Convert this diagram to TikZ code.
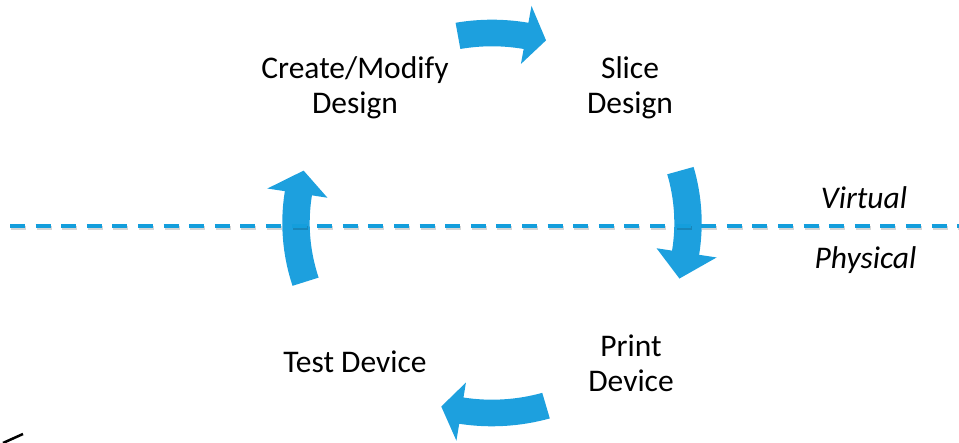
\documentclass[tikz,border=0pt]{standalone}
\usepackage{fontspec}
\setmainfont{Carlito}
\definecolor{arrowblue}{RGB}{29,160,222}
\definecolor{lineblue}{RGB}{20,158,220}
\newcommand\cyclearrow[3]{%
  \fill[arrowblue] (#1:209.7 and 203.3)
    arc[start angle=#1, end angle=#2, x radius=209.7, y radius=203.3]
    -- (#2:227.4 and 220.4) -- (#3:196 and 190) -- (#2:166.6 and 161.5)
    -- (#2:182.3 and 176.7)
    arc[start angle=#2, end angle=#1, x radius=182.3, y radius=176.7]
    -- cycle;}
\begin{document}
\begin{tikzpicture}[x=1pt,y=1pt,
  lbl/.style={font=\fontsize{31.5}{35}\selectfont, align=center, inner sep=0pt, text=black},
  side/.style={font=\fontsize{31.5}{35}\selectfont\itshape, inner sep=0pt, anchor=base},
  dashseg/.style={line width=4pt, line cap=butt}]
\useasboundingbox (0,0) rectangle (959,443);
% cycle arrows
\begin{scope}[shift={(492,220)}]
  \cyclearrow{100}{80}{74}
  \cyclearrow{16}{-9}{-17}
  \cyclearrow{-74}{-99}{-105}
  \cyclearrow{198}{171}{164}
\end{scope}
% dashed boundary with shadow
\foreach \i in {0,...,37}{
  \coordinate (da) at ({10+25.6*\i},217);
  \coordinate (db) at ({25+25.6*\i},217);
  \draw[dashseg, black, opacity=0.16] ([xshift=1pt,yshift=-2.5pt]da) -- ([xshift=1pt,yshift=-2.5pt]db);
  \draw[dashseg, lineblue] (da) -- (db);
}
% labels
\node[lbl] (create) at (355,355.5) {Create/Modify\\Design};
\node[lbl] (slice) at (630,355.5) {Slice\\Design};
\node[lbl] (print) at (631,79.5) {Print\\Device};
\node[lbl, anchor=base] (test) at (355,70) {Test Device};
\node[side] (virtual) at (864,234) {Virtual};
\node[side] (physical) at (865.5,174) {Physical};
% stray stroke bottom left
\coordinate (s1) at (3,0);
\coordinate (s2) at (23,9);
\draw[black, line width=2.5pt] (s1) -- (s2);
\end{tikzpicture}
\end{document}
